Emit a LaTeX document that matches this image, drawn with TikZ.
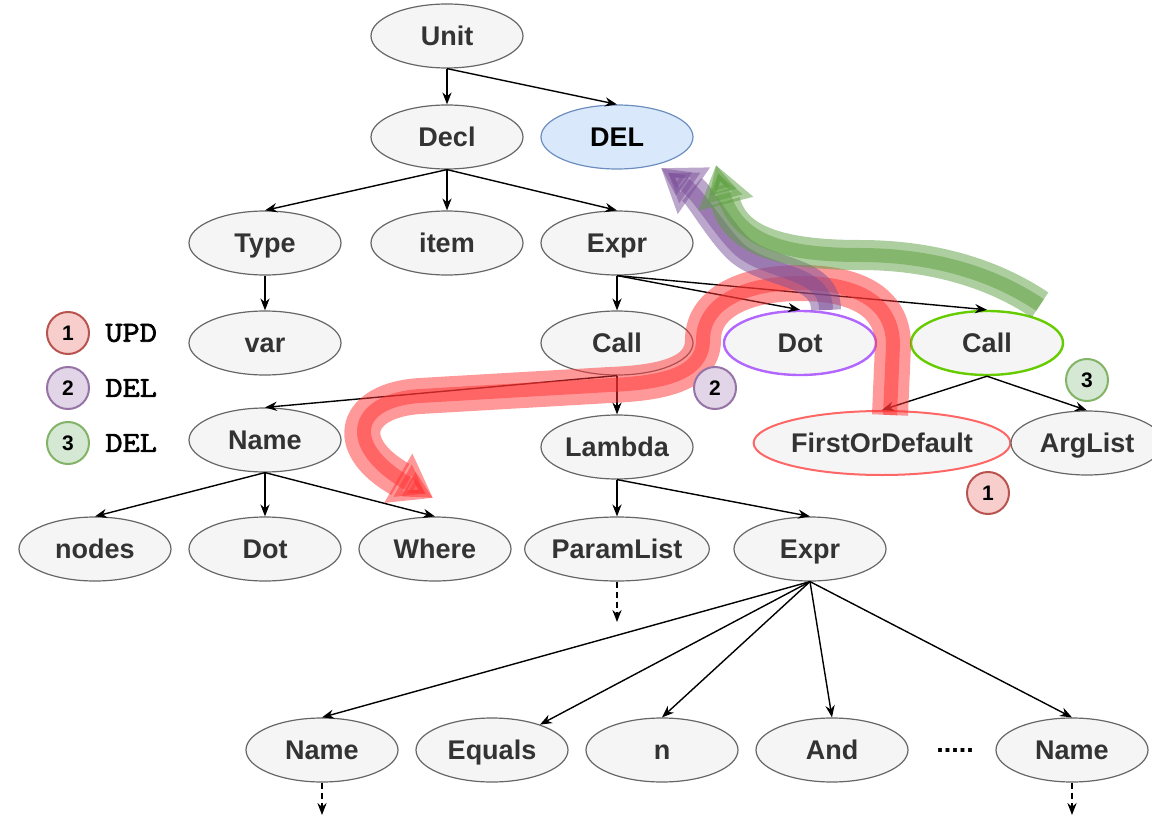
\documentclass[tikz,border=0pt]{standalone}
\usepackage{fontspec}
\setmainfont{Liberation Sans}
\newfontfamily\opfont[FakeBold=2.5,FakeStretch=1.15]{Latin Modern Mono}
\usepackage{xcolor}
\usepackage{tikz}
\usetikzlibrary{shapes.geometric}
\usetikzlibrary{arrows.meta}

\definecolor{astfill}{HTML}{F5F5F5}
\definecolor{astline}{HTML}{666666}
\definecolor{asttext}{HTML}{333333}
\definecolor{delfill}{HTML}{DAE8FC}
\definecolor{delline}{HTML}{6C8EBF}
\definecolor{dotline}{HTML}{B266FF}
\definecolor{callline}{HTML}{66CC00}
\definecolor{firstline}{HTML}{FF6666}
\definecolor{redfill}{HTML}{F8CECC}
\definecolor{redline}{HTML}{B85450}
\definecolor{purplefill}{HTML}{E1D5E7}
\definecolor{purpleline}{HTML}{9673A6}
\definecolor{greenfill}{HTML}{D5E8D4}
\definecolor{greenline}{HTML}{82B366}
\definecolor{flowred}{HTML}{FF3333}
\definecolor{flowpurple}{HTML}{7A4F99}
\definecolor{flowgreen}{HTML}{5C9E3F}

\begin{document}
\begin{tikzpicture}[x=0.5pt,y=-0.5pt,
	ast/.style={ellipse,draw=astline,line width=0.6pt,fill=astfill,text=asttext,
		minimum width=76pt,minimum height=32pt,inner sep=0pt,text height=12.5pt,text depth=2.8pt,
		font=\fontsize{13.5}{16}\selectfont\bfseries},
	edge/.style={-{Stealth[length=6pt,width=4.6pt]},line width=0.7pt},
	more/.style={edge,dash pattern=on 3pt off 2pt},
	badge/.style={circle,line width=1pt,minimum size=21pt,inner sep=0pt,
		font=\fontsize{10.5}{12}\selectfont\bfseries},
	op/.style={anchor=west,inner sep=0pt,font=\fontsize{14.5}{16}\selectfont\opfont},
	flowband/.style={opacity=.5,line width=#1,-{Triangle[length=20pt,width=27pt]}},
	flowcore/.style={opacity=.5,line width=7pt,-{Triangle[length=14pt,width=13pt]}}
]
\useasboundingbox (0,0) rectangle (1152,829);

% arbre
\node[ast] (unit) at (447,36) {Unit};
\node[ast] (decl) at (447,137) {Decl};
\node[ast,fill=delfill,draw=delline,text=black] (del) at (617,137) {DEL};
\node[ast] (type) at (265,243) {Type};
\node[ast] (item) at (447,243) {item};
\node[ast] (expr) at (617,243) {Expr};
\node[ast] (var) at (265,343) {var};
\node[ast] (call) at (617,343) {Call};
\node[ast,draw=dotline,line width=1.2pt] (dot) at (800,343) {Dot};
\node[ast,draw=callline,line width=1.2pt] (callb) at (987,343) {Call};
\node[ast] (name) at (265,440) {Name};
\node[ast] (lambda) at (617,447) {Lambda};
\node[ast,draw=firstline,line width=1pt,minimum width=103pt] (first) at (882,443) {FirstOrDefault};
\node[ast] (args) at (1087,443) {ArgList};
\node[ast] (nodes) at (95,549) {nodes};
\node[ast] (dotb) at (265,549) {Dot};
\node[ast] (where) at (435,549) {Where};
\node[ast] (params) at (617,549) {ParamList};
\node[ast] (exprb) at (810,549) {Expr};
\node[ast] (namec) at (322,750) {Name};
\node[ast] (equals) at (492,750) {Equals};
\node[ast] (n) at (662,750) {n};
\node[ast] (and) at (832,750) {And};
\node[ast] (named) at (1072,750) {Name};
\node[inner sep=0pt,font=\fontsize{13.5}{16}\selectfont\bfseries] (gap) at (955,750) {.....};

\draw[edge] (unit.south) -- (decl.north);
\draw[edge] (unit.south) -- (del.north);
\draw[edge] (decl.south) -- (type.north);
\draw[edge] (decl.south) -- (item.north);
\draw[edge] (decl.south) -- (expr.north);
\draw[edge] (type.south) -- (var.north);
\draw[edge] (expr.south) -- (call.north);
\draw[edge] (expr.south) -- (dot.north);
\draw[edge] (expr.south) -- (callb.north);
\draw[edge] (call.south) -- (name.north);
\draw[edge] (call.south) -- (lambda.north);
\draw[edge] (callb.south) -- (first.north);
\draw[edge] (callb.south) -- (args.north);
\draw[edge] (name.south) -- (nodes.north);
\draw[edge] (name.south) -- (dotb.north);
\draw[edge] (name.south) -- (where.north);
\draw[edge] (lambda.south) -- (params.north);
\draw[edge] (lambda.south) -- (exprb.north);
\draw[edge] (exprb.south) -- (namec.north);
\draw[edge] (exprb.south) -- (equals);
\draw[edge] (exprb.south) -- (n.north);
\draw[edge] (exprb.south) -- (and.north);
\draw[edge] (exprb.south) -- (named.north);

% suite de l'arbre
\coordinate (paramsmore) at (617,622);
\coordinate (namecmore) at (322,815);
\coordinate (namedmore) at (1072,815);
\draw[more] (params.south) -- (paramsmore);
\draw[more] (namec.south) -- (namecmore);
\draw[more] (named.south) -- (namedmore);

% legende
\node[badge,draw=redline,fill=redfill] (b1) at (68,333) {1};
\node[badge,draw=purpleline,fill=purplefill] (b2) at (68,388) {2};
\node[badge,draw=greenline,fill=greenfill] (b3) at (68,443) {3};
\node[op] (upd) at (105,333) {UPD};
\node[op] (dela) at (105,388) {DEL};
\node[op] (delb) at (105,443) {DEL};

% actions
\draw[flowband=18pt,flowred] (890,415) -- (893,345) .. controls (893,298) and (850,283) .. (800,283)
	.. controls (750,283) and (703,300) .. (703,340) .. controls (703,375) and (660,383) .. (610,385)
	-- (420,396) .. controls (355,400) and (340,445) .. (433,498);
\draw[flowcore,flowred] (890,415) -- (893,345) .. controls (893,298) and (850,283) .. (800,283)
	.. controls (750,283) and (703,300) .. (703,340) .. controls (703,375) and (660,383) .. (610,385)
	-- (420,396) .. controls (355,400) and (340,445) .. (433,498);
\draw[flowband=15pt,flowpurple] (826,310) .. controls (826,270) and (770,275) .. (740,250)
	.. controls (720,232) and (700,195) .. (661,168);
\draw[flowcore,flowpurple] (826,310) .. controls (826,270) and (770,275) .. (740,250)
	.. controls (720,232) and (700,195) .. (661,168);
\draw[flowband=15pt,flowgreen] (1040,305) .. controls (985,268) and (920,255) .. (860,255)
	.. controls (780,255) and (735,240) .. (716,165);
\draw[flowcore,flowgreen] (1040,305) .. controls (985,268) and (920,255) .. (860,255)
	.. controls (780,255) and (735,240) .. (716,165);

\node[badge,draw=purpleline,fill=purplefill] (b2dot) at (715,388) {2};
\node[badge,draw=redline,fill=redfill] (b1first) at (988,493) {1};
\node[badge,draw=greenline,fill=greenfill] (b3call) at (1087,380) {3};

\end{tikzpicture}
\end{document}
